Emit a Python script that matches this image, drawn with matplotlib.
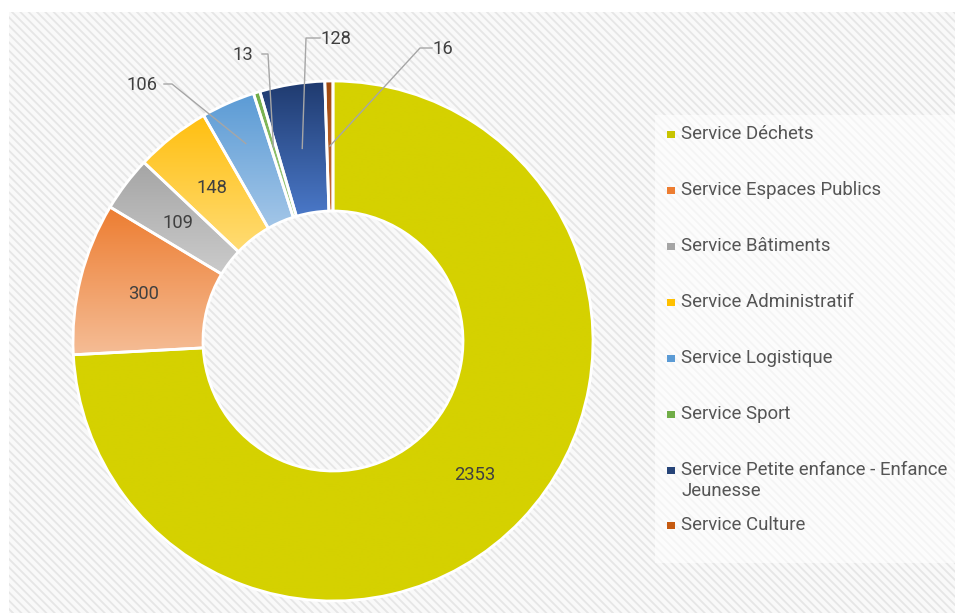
import numpy as np
import matplotlib
matplotlib.use("Agg")
import matplotlib.pyplot as plt
from matplotlib.patches import Rectangle
from matplotlib.colors import LinearSegmentedColormap

plt.rcParams['font.family'] = ['Roboto', 'DejaVu Sans']
plt.rcParams['hatch.linewidth'] = 1.3

# data
services = ["Service Déchets", "Service Espaces Publics", "Service Bâtiments",
            "Service Administratif", "Service Logistique", "Service Sport",
            "Service Petite enfance - Enfance\nJeunesse", "Service Culture"]
counts = [2353, 300, 109, 148, 106, 13, 128, 16]
# top / bottom colour of each slice (gradient fill)
top_colors = ["#d5d100", "#ed7d31", "#a5a5a5", "#ffbf10", "#5b9bd5", "#70ad47", "#1f3a6e", "#9e480e"]
bottom_colors = ["#d5d100", "#f5bd96", "#cbcbcb", "#ffdc74", "#a3c6e8", "#a9d18e", "#4a78c8", "#c9703a"]
legend_colors = ["#c8c400", "#ed7d31", "#a5a5a5", "#ffc000", "#5b9bd5", "#70ad47", "#264478", "#c55a11"]

W, H = 955, 613
fig = plt.figure(figsize=(W / 100, H / 100), dpi=100)

# background layer in pixel coords
bg = fig.add_axes([0, 0, 1, 1])
bg.set_xlim(0, W)
bg.set_ylim(H, 0)
bg.axis("off")
bg.add_patch(Rectangle((9, 12), W - 9, H - 12, facecolor="#f9f9f9",
                       edgecolor="#e6e6e6", linewidth=0, hatch="\\\\\\\\"))
bg.add_patch(Rectangle((655, 115), W - 655, 448, facecolor="white",
                       edgecolor="none", alpha=0.6))

# legend drawn by hand
leg_y = [134, 190, 246, 302, 358, 414, 470, 525]
for name, col, y in zip(services, legend_colors, leg_y):
    bg.add_patch(Rectangle((667, y - 3), 8, 7, facecolor=col, edgecolor="none"))
    bg.text(681, y - 9, name, fontsize=13.4, color="#555555", va="top", ha="left",
            linespacing=1.2)

# donut
cx, cy, R = 333, 341, 260
pad = 270
ax = fig.add_axes([(cx - pad) / W, (H - cy - pad) / H, 2 * pad / W, 2 * pad / H])
ax.axis("off")

def px(x, y):
    return (x - cx) / R, (cy - y) / R

wedges, _ = ax.pie(counts, startangle=90, counterclock=False, radius=1,
                   wedgeprops=dict(width=0.5, edgecolor="white", linewidth=2))

for w, c0, c1 in zip(wedges, top_colors, bottom_colors):
    bb = w.get_path().get_extents()
    cmap = LinearSegmentedColormap.from_list("g", [c0, c1])
    grad = np.linspace(0, 1, 256).reshape(-1, 1)
    im = ax.imshow(grad, cmap=cmap, aspect="auto", origin="upper",
                   extent=(bb.x0, bb.x1, bb.y0, bb.y1), zorder=0.5,
                   interpolation="bilinear")
    im.set_clip_path(w)
    w.set_facecolor("none")
    w.set_zorder(1)

ax.set_xlim(-pad / R, pad / R)
ax.set_ylim(-pad / R, pad / R)
ax.set_aspect("equal")

# mid angles of the slices
total = sum(counts)
mids = []
start = 90.0
for v in counts:
    sweep = 360.0 * v / total
    mids.append(np.radians(start - sweep / 2))
    start -= sweep

# labels inside the ring
for i in [0, 1, 2, 3]:
    r = 0.75
    ax.text(r * np.cos(mids[i]), r * np.sin(mids[i]), str(counts[i]),
            ha="center", va="center", fontsize=13.2, color="#404040")

# labels outside with leader lines: (index, text pos, elbow start, elbow end, anchor radius)
outside = [
    (4, (142, 85), (164, 84), (172, 84), 0.83),
    (5, (243, 55), (262, 54), (268, 54), 0.78),
    (6, (336, 39), (320, 38), (306, 38), 0.75),
    (7, (443, 49), (432, 48), (420, 48), 0.75),
]
for i, tpos, e0, e1, r in outside:
    tx, ty = px(*tpos)
    ax.text(tx, ty, str(counts[i]), ha="center", va="center", fontsize=13.2,
            color="#404040", clip_on=False)
    ax_ = r * np.cos(mids[i])
    ay_ = r * np.sin(mids[i])
    p0 = px(*e0)
    p1 = px(*e1)
    ax.plot([p0[0], p1[0], ax_], [p0[1], p1[1], ay_], color="#a6a6a6",
            linewidth=1, clip_on=False, zorder=3)

fig.savefig("out.png", dpi=100)
